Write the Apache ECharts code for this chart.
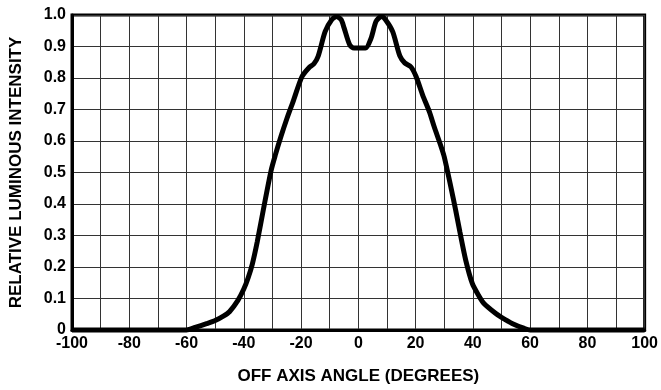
<!DOCTYPE html>
<html>
<head>
<meta charset="utf-8">
<script src="https://cdn.jsdelivr.net/npm/echarts@6/dist/echarts.min.js"></script>
<style>
html,body{margin:0;padding:0;background:#fff;}
#chart{width:661px;height:390px;}
</style>
</head>
<body>
<div id="chart"></div>
<script>
var angles = [-100, -60, -57, -53, -50, -47, -45, -42, -40, -38.5, -37, -35.3, -33, -30.5, -29, -27, -25, -22.6, -19.7, -17, -15.5, -14, -11.6, -9.3, -7.6, -6, -5, -3, -1.5, 2.5, 4.4, 6.2, 8, 9.5, 12, 14.5, 16.2, 18.4, 20.2, 22.5, 24.8, 26.5, 28.8, 30, 32.3, 34, 35.5, 37.5, 39.8, 42, 43.8, 47.9, 50, 53.7, 58, 60, 100];
var intensity = [0, 0, 0.008, 0.02, 0.03, 0.045, 0.058, 0.095, 0.13, 0.165, 0.21, 0.28, 0.39, 0.505, 0.555, 0.615, 0.67, 0.73, 0.804, 0.835, 0.845, 0.87, 0.947, 0.985, 0.995, 0.985, 0.96, 0.905, 0.895, 0.895, 0.925, 0.98, 0.995, 0.985, 0.947, 0.87, 0.848, 0.835, 0.804, 0.745, 0.693, 0.645, 0.585, 0.55, 0.455, 0.38, 0.31, 0.222, 0.148, 0.11, 0.085, 0.053, 0.04, 0.021, 0.005, 0, 0];
var xTitle = 'OFF AXIS ANGLE (DEGREES)';
var yTitle = 'RELATIVE LUMINOUS INTENSITY';

var pts = angles.map(function (a, i) { return [a, intensity[i]]; });
var font = 'Liberation Sans, Arial, sans-serif';
var chart = echarts.init(document.getElementById('chart'), null, {renderer: 'canvas'});
chart.setOption({
  animation: false,
  backgroundColor: '#fff',
  grid: {left: 70, right: 14, top: 15, bottom: 60, show: true, borderColor: '#000', borderWidth: 3, containLabel: false},
  xAxis: {
    type: 'value', min: -100, max: 100, interval: 10,
    name: xTitle, nameLocation: 'middle', nameGap: 38,
    nameTextStyle: {fontFamily: font, fontWeight: 'bold', fontSize: 17, color: '#000'},
    axisLine: {show: true, onZero: false, lineStyle: {color: '#000', width: 3}},
    axisTick: {show: false},
    axisLabel: {
      fontFamily: font, fontWeight: 'bold', fontSize: 16, color: '#000', margin: 6,
      formatter: function (v) { return (Math.round(v) % 20 === 0) ? String(Math.round(v)) : ''; }
    },
    splitLine: {show: true, lineStyle: {color: '#333', width: 1}}
  },
  yAxis: {
    type: 'value', min: 0, max: 1, interval: 0.1,
    name: yTitle, nameLocation: 'middle', nameGap: 47, nameRotate: 90,
    nameTextStyle: {fontFamily: font, fontWeight: 'bold', fontSize: 17, color: '#000'},
    axisLine: {show: true, onZero: false, lineStyle: {color: '#000', width: 3}},
    axisTick: {show: false},
    axisLabel: {
      fontFamily: font, fontWeight: 'bold', fontSize: 16, color: '#000', margin: 6,
      formatter: function (v) { return v === 0 ? '0' : v.toFixed(1); }
    },
    splitLine: {show: true, lineStyle: {color: '#333', width: 1}}
  },
  series: [{
    type: 'line', data: pts, smooth: 0.25, showSymbol: false, clip: false,
    lineStyle: {color: '#000', width: 5}
  }]
});
</script>
</body>
</html>
